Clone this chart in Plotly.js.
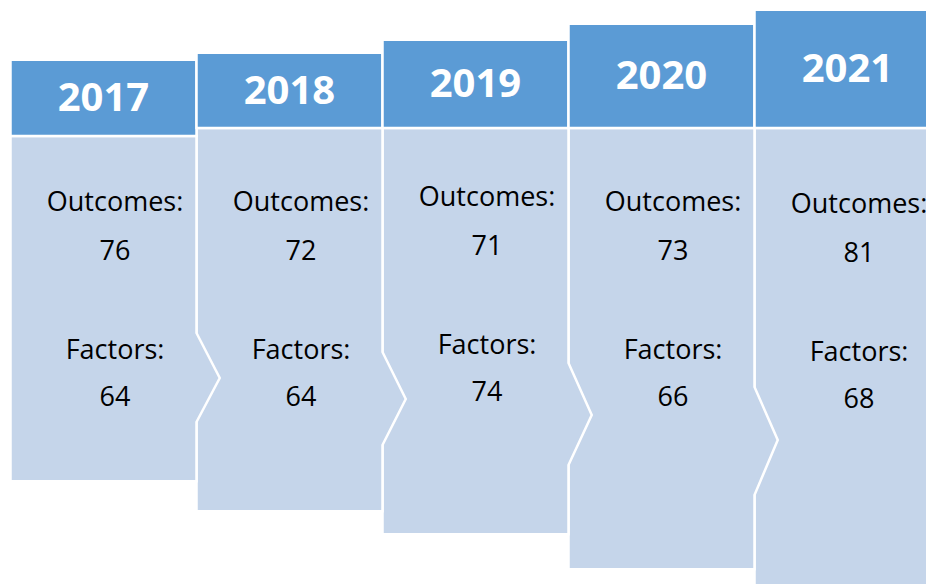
<!DOCTYPE html>
<html>
<head>
<meta charset="utf-8">
<script src="https://cdn.plot.ly/plotly-3.0.1.min.js"></script>
<style>html,body{margin:0;padding:0;background:#fff;}#chart{width:926px;height:584px;}</style>
</head>
<body>
<div id="chart"></div>
<script>
// ---- data ----
const years = ['2017', '2018', '2019', '2020', '2021'];
const outcomes = [76, 72, 71, 73, 81];
const factors = [64, 64, 74, 66, 68];
const outcomeLabel = 'Outcomes:';
const factorLabel = 'Factors:';

// ---- layout geometry (pixel-like y scale, index-based x scale) ----
const headerTop = [61, 54, 41, 25, 11];
const headerBottom = [135, 127, 127, 127, 127];
const bodyBottom = [480, 510, 533, 568, 600];
const notchTop = [333, 352, 363, 387];
const notchTip = [378, 399, 415, 440];
const notchBottom = [422, 445, 465, 495];
const textShift = [0, 0, -5, 0, 2];

const HEADER = '#5B9BD5';
const BODY = '#C5D5EA';
const LW = 2.5;
const half = 0.5;
const tip = 0.125;
const tx = 0.062;

const idx = years.map((_, i) => i);
const shapes = [];
// bodies, drawn last-to-first so each arrow tip overlays the next body
for (let i = years.length - 1; i >= 0; i--) {
  const x0 = i - half, x1 = i + half;
  const yTop = headerBottom[i] + 1;
  const yBot = bodyBottom[i] + 1.25;
  let p = `M ${x0},${yTop} L ${x1},${yTop} `;
  if (i < years.length - 1) {
    p += `L ${x1},${notchTop[i]} L ${x1 + tip},${notchTip[i]} L ${x1},${notchBottom[i]} `;
  }
  p += `L ${x1},${yBot} L ${x0},${yBot} Z`;
  shapes.push({type: 'path', xref: 'x', yref: 'y', path: p, fillcolor: BODY,
    line: {color: '#ffffff', width: LW}, layer: 'below'});
}
// headers
for (let i = 0; i < years.length; i++) {
  shapes.push({type: 'rect', xref: 'x', yref: 'y', x0: i - half, x1: i + half,
    y0: headerTop[i] - 1.25, y1: headerBottom[i] + 1, fillcolor: HEADER,
    line: {color: '#ffffff', width: LW}, layer: 'below'});
}

const bodyFont = {family: 'Open Sans, sans-serif', size: 27, color: '#000000'};
function textTrace(xs, ys, texts, font) {
  return {type: 'scatter', mode: 'text', x: xs, y: ys, text: texts,
    textposition: 'middle center', textfont: font, hoverinfo: 'skip',
    showlegend: false, cliponaxis: false};
}

const traces = [
  textTrace(idx, idx.map(i => (headerTop[i] + headerBottom[i]) / 2 + 3), years,
    {family: 'Open Sans, sans-serif', size: 40, color: '#ffffff', weight: 'bold'}),
  textTrace(idx.map(i => i + tx), idx.map(i => 204 + textShift[i]), years.map(() => outcomeLabel), bodyFont),
  textTrace(idx.map(i => i + tx), idx.map(i => 253 + textShift[i]), outcomes.map(String), bodyFont),
  textTrace(idx.map(i => i + tx), idx.map(i => 352 + textShift[i]), years.map(() => factorLabel), bodyFont),
  textTrace(idx.map(i => i + tx), idx.map(i => 399 + textShift[i]), factors.map(String), bodyFont)
];

const layout = {
  width: 926, height: 584,
  margin: {l: 0, r: 0, t: 0, b: 0},
  paper_bgcolor: '#ffffff', plot_bgcolor: '#ffffff',
  showlegend: false,
  xaxis: {range: [-103.5 / 186, (926 - 103.5) / 186], visible: false, fixedrange: true},
  yaxis: {range: [584, 0], visible: false, fixedrange: true},
  shapes: shapes
};

Plotly.newPlot('chart', traces, layout, {staticPlot: true, displayModeBar: false});
</script>
</body>
</html>
